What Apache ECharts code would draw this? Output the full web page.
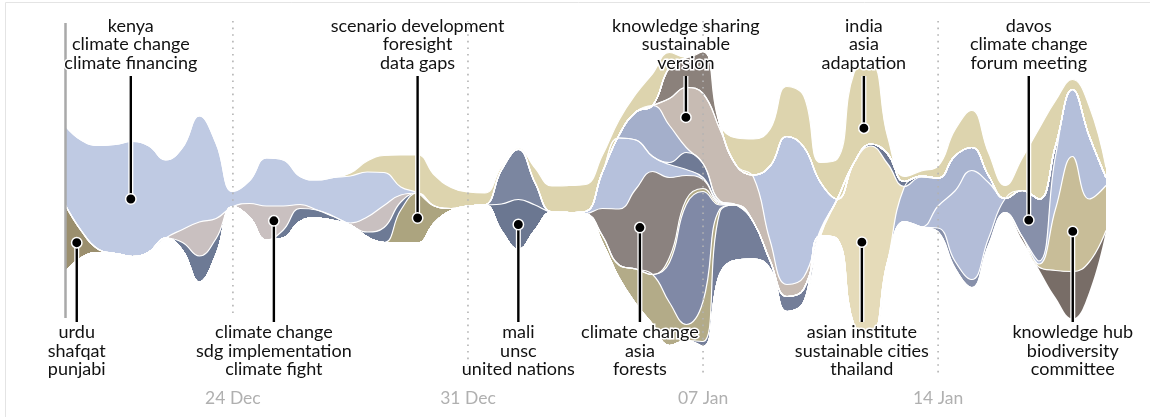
<!DOCTYPE html>
<html>
<head>
<meta charset="utf-8">
<script src="https://cdn.jsdelivr.net/npm/echarts@6/dist/echarts.min.js"></script>
<style>
html,body{margin:0;padding:0;background:#fff;}
#chart{width:1150px;height:417px;}
</style>
</head>
<body>
<div id="chart"></div>
<script>
// x values: half-day steps, in days since 19 Dec (0 .. 31 = 19 Jan)
const N = 63;
const days = Array.from({length: N}, (_, i) => String(i / 2));

// week tick marks (days since 19 Dec)
const tickDays = [5, 12, 19, 26];
const tickLabels = ['24 Dec', '31 Dec', '07 Jan', '14 Jan'];

function pad(start, vals) {
  const a = new Array(N).fill(0);
  vals.forEach((v, k) => { a[start + k] = v; });
  return a;
}

// ---- topic weights (estimated), each array: start index + values ----
const tan        = pad(17, [3, 11, 17, 32, 38, 31, 21, 14, 12, 3, 1, 15, 26, 27, 27, 17, 15, 18, 32, 15, 0, 0, 0, 28, 36, 37, 50, 51, 20, 40, 90, 80, 17, 5, 5, 12, 26, 37, 23, 13, 32, 70, 45, 10, 30, 10]);
const kenya      = pad(0,  [79, 91, 104, 109, 115, 106, 78, 82, 106, 75, 15, 23, 48, 46, 28, 30, 39, 47, 45, 33, 8]);
const sdg        = pad(7,  [13, 34, 20, 0, 14, 34, 24, 4, 0, 0, 2, 15, 22, 7]);
const slateDec   = pad(7,  [8, 26, 16, 0, 0, 0, 8, 13, 8, 4, 0, 5, 15, 8]);
const scenario   = pad(20, [33, 50, 17, 2]);
const urdu       = pad(0,  [68, 26, 3]);
const maliUpper  = pad(26, [34, 50, 22]);
const mali       = pad(26, [27, 50, 25]);
const sharing    = pad(36, [31, 30, 42, 5]);
const blueJan9   = pad(41, [2, 75, 148, 130, 47]);
const version    = pad(36, [27, 60, 70, 72, 39, 45, 20, 12, 12, 3]);
const midBlue    = pad(33, [3, 28, 51, 37, 5]);
const slateSmall = pad(36, [2, 17, 14, 1]);
const lightBlue  = pad(31, [2, 36, 71, 49, 15, 13, 6, 2, 1]);
const forests    = pad(32, [27, 56, 80, 103, 80, 24, 9, 1]);
const oliveThin  = pad(36, [5, 5, 3, 1]);
const slateMid   = pad(36, [40, 120, 110, 4]);
const oliveOuter = pad(32, [7, 13, 35, 50, 43, 16, 40, 3]);
const slateBig   = pad(38, [5, 62, 55, 37, 8, 15, 13, 3]);
const slateJan11 = pad(48, [2, 10, 5, 1]);
const thailand   = pad(46, [40, 163, 188, 97]);
const blueJan12  = pad(50, [35, 50, 28, 35, 23, 7]);
const blueJan14  = pad(52, [22, 70, 109, 56]);
const davos      = pad(52, [4, 7, 8, 7, 14, 46, 62, 10]);
const blueJan18  = pad(58, [3, 53, 67, 63, 8]);
const hub        = pad(58, [3, 62, 115, 63, 45]);
const brownJan18 = pad(57, [3, 2, 27, 47, 30, 0]);

// stack order, top -> bottom
const layers = [
  {name: 'india',      data: tan,        color: '#ddd4ae'},
  {name: 'kenya',      data: kenya,      color: '#bfcae3'},
  {name: 'sdg',        data: sdg,        color: '#c9c0c0'},
  {name: 'slateDec',   data: slateDec,   color: '#6d7a95'},
  {name: 'scenario',   data: scenario,   color: '#aca47f'},
  {name: 'urdu',       data: urdu,       color: '#9b8f6e'},
  {name: 'maliUpper',  data: maliUpper,  color: '#7b86a0'},
  {name: 'mali',       data: mali,       color: '#6b7791'},
  {name: 'sharing',    data: sharing,    color: '#8b817b'},
  {name: 'blueJan9',   data: blueJan9,   color: '#b9c4df'},
  {name: 'version',    data: version,    color: '#c7bbb3'},
  {name: 'midBlue',    data: midBlue,    color: '#a4afcb'},
  {name: 'slateSmall', data: slateSmall, color: '#6f7a95'},
  {name: 'lightBlue',  data: lightBlue,  color: '#b6c1dc'},
  {name: 'forests',    data: forests,    color: '#8b827f'},
  {name: 'oliveThin',  data: oliveThin,  color: '#b1a985'},
  {name: 'slateMid',   data: slateMid,   color: '#8089a6'},
  {name: 'oliveOuter', data: oliveOuter, color: '#b3ab88'},
  {name: 'slateBig',   data: slateBig,   color: '#747e99'},
  {name: 'slateJan11', data: slateJan11, color: '#6d7893'},
  {name: 'thailand',   data: thailand,   color: '#e5dbb9'},
  {name: 'blueJan12',  data: blueJan12,  color: '#a9b4d0'},
  {name: 'blueJan14',  data: blueJan14,  color: '#b3bdd8'},
  {name: 'davos',      data: davos,      color: '#8790aa'},
  {name: 'blueJan18',  data: blueJan18,  color: '#b4bfda'},
  {name: 'hub',        data: hub,        color: '#c8bd98'},
  {name: 'brownJan18', data: brownJan18, color: '#786d67'}
];

const annotations = [
  {layer: 'kenya',    day: 1.96,  side: 'top',    text: ['kenya', 'climate change', 'climate financing']},
  {layer: 'urdu',     day: 0.35,  side: 'bottom', text: ['urdu', 'shafqat', 'punjabi']},
  {layer: 'sdg',      day: 6.22,  side: 'bottom', text: ['climate change', 'sdg implementation', 'climate fight']},
  {layer: 'scenario', day: 10.5,  side: 'top',    text: ['scenario development', 'foresight', 'data gaps']},
  {layer: 'mali',     day: 13.5,  side: 'bottom', text: ['mali', 'unsc', 'united nations']},
  {layer: 'forests',  day: 17.12, side: 'bottom', text: ['climate change', 'asia', 'forests']},
  {layer: 'version',  day: 18.49, side: 'top',    text: ['knowledge sharing', 'sustainable', 'version']},
  {layer: 'india',    day: 23.79, side: 'top',    pos: 0.72, text: ['india', 'asia', 'adaptation']},
  {layer: 'thailand', day: 23.73, side: 'bottom', text: ['asian institute', 'sustainable cities', 'thailand']},
  {layer: 'davos',    day: 28.70, side: 'top',    text: ['davos', 'climate change', 'forum meeting']},
  {layer: 'hub',      day: 30.01, side: 'bottom', pos: 0.65, text: ['knowledge hub', 'biodiversity', 'committee']}
];

// ---- layout: centred (silhouette) stream ----
const PLOT_H = 385;          // y axis range = grid height in px
const CENTER = 186;          // stream centre in y units
const totals = days.map((_, i) => layers.reduce((s, l) => s + l.data[i], 0));
const base = totals.map(t => CENTER - t / 2);

const SMOOTH = 0.45;
const series = [{
  name: 'base', type: 'line', stack: 'stream', symbol: 'none', smooth: SMOOTH,
  data: base,
  lineStyle: {opacity: 0}, silent: true, z: 1
}];
layers.slice().reverse().forEach(l => {
  series.push({
    name: l.name, type: 'line', stack: 'stream', symbol: 'none', smooth: SMOOTH,
    data: l.data,
    lineStyle: {color: '#ffffff', width: 1.2},
    areaStyle: {color: l.color, opacity: 1},
    emphasis: {disabled: true}, silent: true, z: 2
  });
});

const option = {
  animation: false,
  backgroundColor: '#ffffff',
  grid: {left: 65, right: 44, top: 0, bottom: 417 - PLOT_H},
  xAxis: {type: 'category', data: days, boundaryGap: false, show: false},
  yAxis: {type: 'value', min: 0, max: PLOT_H, show: false},
  series: series
};

const chart = echarts.init(document.getElementById('chart'));
chart.setOption(option);

function py(v) { return chart.convertToPixel({gridIndex: 0}, [0, v])[1]; }
function pxDay(d) {
  const f = d * 2, i0 = Math.floor(f), i1 = Math.min(N - 1, i0 + 1), t = f - i0;
  const a = chart.convertToPixel({gridIndex: 0}, [i0, 0])[0];
  const b = chart.convertToPixel({gridIndex: 0}, [i1, 0])[0];
  return a + (b - a) * t;
}
function lerp(arr, f) {
  const i0 = Math.floor(f), i1 = Math.min(N - 1, i0 + 1), t = f - i0;
  return arr[i0] * (1 - t) + arr[i1] * t;
}
function layerBand(name, day) {
  const k = layers.findIndex(l => l.name === name);
  const f = day * 2;
  let below = lerp(base, f);
  for (let j = layers.length - 1; j > k; j--) below += lerp(layers[j].data, f);
  const top = below + lerp(layers[k].data, f);
  return [py(top), py(below)];
}

const FONT = 'Lato, "Noto Sans", sans-serif';
const g = [];
// card frame
g.push({type: 'rect', shape: {x: 5.5, y: 2.5, width: 1160, height: 430},
  style: {fill: 'none', stroke: '#e4e4e4', lineWidth: 1}, z: 0, silent: true});
// start line
const x0 = pxDay(0) + 0.5;
g.push({type: 'line', shape: {x1: x0, y1: 23, x2: x0, y2: 318},
  style: {stroke: '#a9a9a9', lineWidth: 2.5}, z: 50, silent: true});
// week lines + labels
tickDays.forEach((d, k) => {
  const x = pxDay(d);
  const yEnd = k === 0 ? 318 : 377;
  g.push({type: 'line', shape: {x1: x, y1: 21, x2: x, y2: yEnd},
    style: {stroke: '#b3b3b3', lineWidth: 1.6, lineDash: [1.6, 5]}, z: 50, silent: true});
  g.push({type: 'text', z: 50, silent: true,
    style: {x: x, y: 398, text: tickLabels[k], fill: '#b0b0b0', font: '17.5px ' + FONT,
      align: 'center', verticalAlign: 'middle'}});
});
// annotations
annotations.forEach(a => {
  const band = layerBand(a.layer, a.day);
  const frac = a.pos == null ? 0.5 : a.pos;
  const x = pxDay(a.day);
  const y = band[0] + frac * (band[1] - band[0]);
  const yText = a.side === 'top' ? 72 : 323;
  const yLineEnd = a.side === 'top' ? 76 : 322;
  g.push({type: 'line', shape: {x1: x, y1: y, x2: x, y2: yLineEnd},
    style: {stroke: '#ffffff', lineWidth: 5}, z: 60, silent: true});
  g.push({type: 'line', shape: {x1: x, y1: y, x2: x, y2: yLineEnd},
    style: {stroke: '#000000', lineWidth: 2.4}, z: 61, silent: true});
  g.push({type: 'circle', shape: {cx: x, cy: y, r: 5.2},
    style: {fill: '#000000', stroke: '#ffffff', lineWidth: 1.5}, z: 62, silent: true});
  g.push({type: 'text', z: 63, silent: true,
    style: {x: x, y: yText, text: a.text.join('\n'), fill: '#111111',
      font: '18px ' + FONT, lineHeight: 18.5, align: 'center',
      verticalAlign: a.side === 'top' ? 'bottom' : 'top',
      stroke: '#ffffff', lineWidth: 3, strokeFirst: true}});
});
chart.setOption({graphic: {elements: g}});
</script>
</body>
</html>
